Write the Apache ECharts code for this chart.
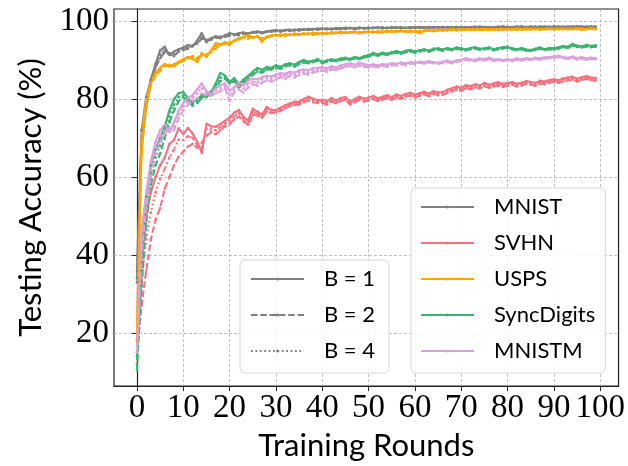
<!DOCTYPE html>
<html>
<head>
<meta charset="utf-8">
<script src="https://cdn.jsdelivr.net/npm/echarts@6/dist/echarts.min.js"></script>
<style>
  html, body { margin: 0; padding: 0; background: #fff; }
  #chart { width: 628px; height: 466px; }
</style>
</head>
<body>
<div id="chart"></div>
<script>
// tick labels
const xTicks = [0, 10, 20, 30, 40, 50, 60, 70, 80, 90, 100]
const yTicks = [20, 40, 60, 80, 100]

const datasets = ['MNIST', 'SVHN', 'USPS', 'SyncDigits', 'MNISTM']
const batchNames = ['B = 1', 'B = 2', 'B = 4']

// testing accuracy (%) per training round 0..99
const mnistB1 = [
  36, 72, 80.5, 85, 89, 92.5, 93.4, 91.3, 92.2, 92.8,
  93.2, 93.9, 93.5, 95, 96.9, 94.6, 95.6, 96.1, 95.8, 96.3,
  96.9, 96.6, 96.9, 97.1, 96.8, 97.2, 97.3, 97.1, 97.4, 97.5,
  97.7, 97.5, 97.7, 97.8, 97.6, 97.9, 97.8, 98, 97.9, 98.1,
  98, 98.1, 97.9, 98.2, 98.1, 98.3, 98.2, 98.1, 98.3, 98.2,
  98.3, 98.2, 98.4, 98.3, 98.2, 98.4, 98.3, 98.4, 98.2, 98.4,
  98.3, 98.5, 98.4, 98.3, 98.5, 98.4, 98.3, 98.5, 98.4, 98.5,
  98.4, 98.3, 98.5, 98.4, 98.6, 98.4, 98.5, 98.3, 98.5, 98.6,
  98.4, 98.5, 98.6, 98.4, 98.5, 98.6, 98.5, 98.4, 98.6, 98.5,
  98.6, 98.5, 98.4, 98.6, 98.5, 98.7, 98.5, 98.6, 98.5, 98.6
]
const mnistB2 = [
  34, 68, 78, 84, 88, 90.5, 92, 91.5, 91, 92.2,
  92.6, 92.9, 93.8, 94.2, 95.5, 95, 95.2, 95.8, 95.6, 96,
  96.2, 96.5, 96.4, 96.8, 96.6, 97, 97.1, 96.9, 97.2, 97.3,
  97.4, 97.3, 97.6, 97.5, 97.7, 97.6, 97.8, 97.7, 97.9, 97.8,
  98, 97.9, 98.1, 98, 97.9, 98.1, 98.2, 98, 98.1, 98.2,
  98.1, 98.3, 98.2, 98.1, 98.3, 98.2, 98.4, 98.3, 98.2, 98.3,
  98.4, 98.3, 98.2, 98.4, 98.3, 98.4, 98.5, 98.3, 98.4, 98.3,
  98.5, 98.4, 98.3, 98.5, 98.4, 98.5, 98.3, 98.4, 98.6, 98.4,
  98.5, 98.4, 98.5, 98.6, 98.4, 98.5, 98.4, 98.6, 98.5, 98.4,
  98.5, 98.6, 98.5, 98.4, 98.6, 98.5, 98.6, 98.4, 98.6, 98.5
]
const mnistB4 = [
  33, 70, 79, 84.5, 88.5, 91.5, 92.5, 91.8, 91.6, 92.5,
  93, 93.2, 93.6, 94.6, 95.8, 95.2, 95.4, 95.9, 96, 96.2,
  96.5, 96.4, 96.7, 96.9, 96.7, 97.1, 97.2, 97, 97.3, 97.4,
  97.6, 97.5, 97.7, 97.6, 97.8, 97.7, 97.9, 97.8, 98, 97.9,
  98.1, 98, 97.9, 98.1, 98.2, 98, 98.2, 98.1, 98.3, 98.1,
  98.2, 98.3, 98.2, 98.4, 98.2, 98.3, 98.4, 98.2, 98.3, 98.4,
  98.3, 98.4, 98.3, 98.5, 98.4, 98.3, 98.5, 98.4, 98.3, 98.5,
  98.4, 98.5, 98.4, 98.6, 98.3, 98.5, 98.4, 98.5, 98.4, 98.6,
  98.5, 98.4, 98.5, 98.6, 98.5, 98.4, 98.6, 98.5, 98.4, 98.6,
  98.5, 98.4, 98.6, 98.5, 98.6, 98.4, 98.6, 98.5, 98.7, 98.5
]

const svhnB1 = [
  20, 38, 50, 56, 60, 63, 65, 68.5, 69.5, 72.5,
  71, 72.6, 71.2, 69, 66.2, 73.7, 73, 72.9, 73.6, 74.4,
  75.2, 76.5, 77.2, 75.4, 74.5, 77.5, 76.8, 76, 78, 77.2,
  77.2, 77.8, 78.4, 78.9, 79.3, 79.3, 80, 80.6, 80.1, 79.7,
  79.8, 79.5, 80.2, 79.6, 80.3, 80.5, 79.3, 80, 80.6, 80.1,
  80.4, 80.8, 80.2, 80.6, 81, 80.5, 81.2, 80.8, 81.3, 81.6,
  81.1, 81.5, 81.9, 81.4, 82, 81.7, 81.8, 82.4, 82.8, 83.2,
  82.9, 83.6, 83.3, 83.8, 83.5, 84.1, 83.7, 84, 84.3, 83.9,
  84.1, 84.4, 83.9, 84.2, 84.6, 84.4, 84.1, 84.7, 84.5, 84.9,
  85.1, 84.8, 85.3, 85.5, 85.7, 85.2, 85.6, 85.9, 85.5, 85.4
]
const svhnB2 = [
  15, 27, 36, 44, 49, 52, 57, 60, 63, 65.2,
  66.5, 67.8, 68.5, 67.5, 68.8, 70.6, 71.5, 71, 72, 73,
  73.6, 74.8, 75.5, 74.3, 73.4, 76, 75.8, 75.2, 76.8, 76.4,
  76.6, 77, 77.6, 78.2, 78.5, 78.6, 79.2, 79.6, 79.2, 79,
  79, 78.6, 79.4, 78.9, 79.5, 79.8, 78.6, 79.2, 79.8, 79.4,
  79.6, 80, 79.5, 79.9, 80.2, 79.8, 80.4, 80.1, 80.6, 80.9,
  80.4, 80.8, 81.2, 80.7, 81.3, 81, 81.1, 81.6, 82, 82.4,
  82.1, 82.8, 82.5, 83, 82.7, 83.3, 82.9, 83.2, 83.5, 83.1,
  83.4, 83.7, 83.2, 83.5, 83.9, 83.7, 83.4, 84, 83.8, 84.2,
  84.4, 84.1, 84.6, 84.8, 85, 84.5, 84.9, 85.2, 84.8, 84.7
]
const svhnB4 = [
  18, 33, 44, 51, 56, 59.5, 62, 65, 67, 69.6,
  69.5, 70.5, 70, 68.3, 67.5, 72.3, 72.2, 72, 72.8, 73.7,
  74.4, 75.6, 76.4, 74.9, 74, 76.8, 76.3, 75.6, 77.4, 76.8,
  76.9, 77.4, 78, 78.6, 78.9, 79, 79.6, 80.1, 79.7, 79.3,
  79.4, 79.1, 79.8, 79.2, 79.9, 80.2, 79, 79.6, 80.2, 79.8,
  80, 80.4, 79.9, 80.3, 80.6, 80.2, 80.8, 80.5, 81, 81.3,
  80.8, 81.2, 81.6, 81.1, 81.7, 81.4, 81.5, 82, 82.4, 82.8,
  82.5, 83.2, 82.9, 83.4, 83.1, 83.7, 83.3, 83.6, 83.9, 83.5,
  83.8, 84.1, 83.6, 83.9, 84.3, 84.1, 83.8, 84.4, 84.2, 84.6,
  84.8, 84.5, 85, 85.2, 85.4, 84.9, 85.3, 85.6, 85.2, 85.1
]

const uspsB1 = [
  20, 70, 80, 84.4, 86.7, 88, 89, 88.3, 88.7, 89.6,
  90.2, 90.8, 90.3, 89.5, 91.8, 90.8, 92.5, 94.3, 94, 94.6,
  93.9, 95.1, 95.6, 95.9, 96.4, 95.8, 96.1, 94.7, 96, 96.3,
  96.5, 96.2, 96.7, 96.4, 96.8, 96.5, 96.9, 96.6, 97, 96.8,
  97, 96.7, 97.1, 96.9, 97.2, 97, 97.1, 97.3, 96.9, 97.2,
  97.3, 97.1, 97.4, 97.2, 97.5, 97.3, 97.4, 97.6, 97.3, 97.5,
  97.4, 96.9, 97.5, 97.7, 97.5, 97.8, 97.6, 97.7, 97.9, 97.7,
  97.8, 97.9, 97.7, 98, 97.8, 97.9, 97.7, 98, 97.8, 97.9,
  98, 97.8, 98.1, 97.9, 98, 97.8, 98.1, 97.9, 98, 98.1,
  97.9, 98, 98.1, 97.9, 98, 98.2, 98, 97.9, 98.1, 98
]
const uspsB2 = [
  18, 66, 78, 83.5, 86, 87.2, 88.5, 88.8, 88.4, 89.3,
  89.8, 90.4, 91, 90.6, 91.2, 91.5, 92, 93, 93.8, 94.2,
  94.5, 94.9, 95.3, 95.7, 95.5, 95.9, 96, 95.6, 95.8, 96.1,
  96.3, 96.5, 96.2, 96.6, 96.4, 96.7, 96.6, 96.8, 96.5, 96.9,
  96.8, 97, 96.8, 97.1, 96.9, 97.2, 97, 97.1, 97.2, 97,
  97.2, 97.3, 97.1, 97.3, 97.2, 97.4, 97.3, 97.5, 97.4, 97.2,
  97.3, 97.5, 97.4, 97.6, 97.4, 97.6, 97.8, 97.6, 97.7, 97.8,
  97.7, 97.8, 97.9, 97.7, 97.9, 97.8, 98, 97.8, 97.9, 97.7,
  97.9, 98, 97.8, 98, 97.9, 98.1, 97.9, 97.8, 98, 97.9,
  98, 97.9, 98, 98.1, 97.9, 98, 97.8, 98, 98.1, 97.9
]
const uspsB4 = [
  22, 68, 79, 84, 86.5, 87.7, 88.8, 88.5, 89, 89.4,
  90, 90.6, 90.8, 90.2, 91.5, 91.2, 92.3, 93.6, 94, 94.4,
  94.2, 95, 95.4, 95.8, 96, 95.7, 96.1, 95.2, 95.9, 96.2,
  96.4, 96.3, 96.6, 96.5, 96.7, 96.6, 96.8, 96.7, 96.9, 96.7,
  96.9, 96.8, 97, 97, 97.1, 96.9, 97.2, 97.2, 97, 97.1,
  97.2, 97.2, 97.3, 97.1, 97.4, 97.3, 97.5, 97.4, 97.3, 97.4,
  97.3, 97.2, 97.6, 97.5, 97.6, 97.7, 97.5, 97.8, 97.8, 97.6,
  97.9, 97.8, 97.8, 97.9, 97.7, 98, 97.9, 97.9, 97.7, 98,
  97.9, 97.9, 98, 97.8, 98.1, 97.9, 98, 98, 97.9, 98,
  98, 98.1, 97.9, 98, 98.1, 97.9, 98.1, 98, 98, 98.1
]

const syncB1 = [
  14, 40, 55, 63, 67, 70, 73, 77, 80, 81.5,
  81.8, 80.3, 79.2, 80, 81, 80.5, 81.5, 84, 86.7, 86,
  84.4, 85.4, 83.8, 85, 86, 87, 88, 87.5, 88.2, 88,
  88.7, 88.3, 88.9, 89.2, 88.8, 89.5, 90, 89.6, 89.8, 90.3,
  89.5, 89.9, 90.2, 90, 90.4, 90.6, 90.3, 90.8, 90.5, 91,
  91.3, 91.8, 91.5, 91.9, 91.6, 92, 92.3, 91.9, 92.4, 92.6,
  92.2, 92.5, 92.8, 92.4, 92.9, 93, 92.7, 93.1, 92.8, 93.2,
  93, 92.7, 93.1, 93.3, 92.9, 93, 93.2, 92.8, 93.1, 93.3,
  93.4, 93, 92.8, 93.1, 92.7, 92.6, 92.9, 93.2, 92.8, 93.1,
  93, 93.3, 93.6, 93.4, 94.1, 93.7, 93.5, 93.9, 93.6, 93.8
]
const syncB2 = [
  10.5, 32, 48, 58, 63, 66, 70, 74, 77, 79.5,
  80.5, 79.5, 78.3, 79, 80.2, 81, 82, 83, 84.6, 85.2,
  84, 84.6, 83, 84.3, 85.2, 86.2, 87, 86.8, 87.5, 87.6,
  88, 87.8, 88.4, 88.7, 88.3, 89, 89.4, 89.2, 89.5, 89.8,
  89.2, 89.6, 89.9, 89.7, 90, 90.2, 90.1, 90.4, 90.3, 90.6,
  90.9, 91.3, 91.1, 91.5, 91.3, 91.7, 91.9, 91.6, 92, 92.2,
  91.9, 92.2, 92.5, 92.1, 92.6, 92.7, 92.4, 92.8, 92.5, 92.9,
  92.7, 92.5, 92.8, 93, 92.6, 92.8, 92.9, 92.5, 92.8, 93,
  93.1, 92.8, 92.5, 92.8, 92.4, 92.4, 92.6, 92.9, 92.6, 92.8,
  92.7, 93, 93.3, 93.1, 93.7, 93.4, 93.2, 93.5, 93.3, 93.4
]
const syncB4 = [
  12, 36, 52, 61, 65, 68, 72, 75.5, 78.5, 80.5,
  81, 80, 78.8, 79.6, 80.6, 80.8, 81.8, 83.6, 85.5, 85.6,
  84.2, 85, 83.4, 84.6, 85.6, 86.6, 87.5, 87.2, 87.9, 87.8,
  88.4, 88, 88.6, 89, 88.5, 89.2, 89.7, 89.4, 89.6, 90,
  89.4, 89.8, 90, 89.9, 90.2, 90.4, 90.2, 90.6, 90.4, 90.8,
  91.1, 91.5, 91.3, 91.7, 91.5, 91.8, 92.1, 91.8, 92.2, 92.4,
  92, 92.3, 92.6, 92.3, 92.7, 92.8, 92.5, 93, 92.7, 93,
  92.8, 92.6, 93, 93.1, 92.8, 92.9, 93, 92.7, 93, 93.1,
  93.2, 92.9, 92.7, 92.9, 92.5, 92.5, 92.8, 93, 92.7, 93,
  92.9, 93.1, 93.4, 93.2, 93.9, 93.5, 93.3, 93.7, 93.5, 93.6
]

const mnistmB1 = [
  16, 46, 56, 64, 69, 72, 73.4, 71.5, 74, 77,
  79, 80.2, 81, 82.5, 84, 82, 81.5, 82.8, 83.5, 84,
  82.2, 83, 84.2, 83.5, 84.8, 85.2, 85, 85.6, 86, 85.8,
  86.3, 86.7, 86.5, 87, 86.8, 87.3, 87.6, 87.4, 87.9, 88,
  88.2, 87.9, 88.4, 88.1, 88.6, 88.9, 89.2, 88.8, 89.3, 89,
  88.7, 88.9, 88.6, 89, 88.8, 89.2, 89, 89.4, 89.1, 89.5,
  89.3, 89.6, 89.4, 89.7, 89.5, 89.3, 89.6, 89.8, 89.5, 89.9,
  90.1, 90.5, 90.2, 90, 90.4, 90.2, 90.6, 90.1, 90.3, 90,
  90.2, 90, 90.4, 90.2, 90.5, 90.3, 90.6, 90.4, 90.7, 90.8,
  90.9, 91.1, 90.8, 90.6, 90.9, 90.5, 90.7, 90.4, 90.6, 90.5
]
const mnistmB2 = [
  15, 40, 52, 60, 66, 69, 71, 72.5, 72, 75,
  77, 78.5, 79.5, 80.2, 81.4, 81, 80.8, 81.5, 82, 82.8,
  79.5, 81.8, 82.5, 81.6, 83, 83.8, 83.4, 84.2, 84.8, 84.5,
  85, 85.6, 85.2, 85.9, 85.5, 86.2, 86.6, 86.3, 86.8, 87.1,
  87.3, 87, 87.6, 87.4, 87.9, 88.2, 88.5, 88.1, 88.6, 88.3,
  88.1, 88.4, 88.2, 88.5, 88.3, 88.7, 88.6, 89, 88.7, 89.1,
  89, 89.3, 89.1, 89.4, 89.2, 89, 89.3, 89.5, 89.2, 89.6,
  89.8, 90.1, 89.9, 89.7, 90.1, 89.9, 90.2, 89.8, 90, 89.8,
  90, 89.8, 90.1, 89.9, 90.2, 90, 90.3, 90.1, 90.4, 90.5,
  90.6, 90.8, 90.5, 90.3, 90.6, 90.2, 90.4, 90.1, 90.3, 90.2
]
const mnistmB4 = [
  17, 43, 54, 62, 67.5, 70.5, 72, 72, 73, 76,
  78, 79.3, 80.3, 81.5, 82.8, 81.5, 81.2, 82.2, 82.8, 83.4,
  81, 82.4, 83.4, 82.6, 84, 84.5, 84.2, 85, 85.4, 85.2,
  85.7, 86.2, 85.9, 86.5, 86.2, 86.8, 87.1, 86.9, 87.4, 87.6,
  87.9, 87.6, 88.1, 87.8, 88.3, 88.6, 88.9, 88.5, 89, 88.7,
  88.4, 88.7, 88.4, 88.8, 88.5, 89, 88.8, 89.2, 88.9, 89.3,
  89.1, 89.4, 89.2, 89.5, 89.3, 89.1, 89.4, 89.6, 89.3, 89.7,
  89.9, 90.3, 90, 89.8, 90.2, 90, 90.4, 89.9, 90.1, 89.9,
  90.1, 89.9, 90.2, 90, 90.3, 90.1, 90.4, 90.2, 90.5, 90.6,
  90.7, 90.9, 90.6, 90.4, 90.7, 90.3, 90.5, 90.2, 90.4, 90.3
]

const colors = {
  MNIST: '#808080',
  SVHN: '#f8717f',
  USPS: '#ffa500',
  SyncDigits: '#3cb371',
  MNISTM: '#dda0dd'
}
// solid / dashed / dotted like matplotlib
const dashes = ['solid', [6.5, 2.8], [1.8, 2.6]]

const runs = {
  MNIST: [mnistB1, mnistB2, mnistB4],
  SVHN: [svhnB1, svhnB2, svhnB4],
  USPS: [uspsB1, uspsB2, uspsB4],
  SyncDigits: [syncB1, syncB2, syncB4],
  MNISTM: [mnistmB1, mnistmB2, mnistmB4]
}

const chart = echarts.init(document.getElementById('chart'), null, { renderer: 'canvas' })

const series = []
datasets.forEach((name) => {
  runs[name].forEach((vals, b) => {
    series.push({
      name: name,
      type: 'line',
      data: vals.map((v, i) => [i, v]),
      symbol: 'circle',
      symbolSize: 2.5,
      showSymbol: true,
      showAllSymbol: true,
      lineStyle: { color: colors[name], width: 2.1, type: dashes[b] },
      itemStyle: { color: colors[name] },
      emphasis: { disabled: true },
      animation: false
    })
  })
})
// empty series, only for the batch-size legend
batchNames.forEach((name, b) => {
  series.push({
    name: name,
    type: 'line',
    data: [],
    symbol: 'circle',
    symbolSize: 2.5,
    lineStyle: { color: '#808080', width: 2.1, type: dashes[b] },
    itemStyle: { color: '#808080' },
    animation: false
  })
})

const legendCommon = {
  orient: 'vertical',
  itemWidth: 53,
  itemHeight: 4,
  itemGap: 14,
  backgroundColor: 'rgba(255,255,255,0.85)',
  borderColor: '#d6d6d6',
  borderWidth: 1,
  borderRadius: 5,
  selectedMode: false,
  textStyle: {
    fontFamily: 'Lato',
    fontSize: 22,
    color: '#000',
    padding: [0, 0, 0, 15]
  }
}

const option = {
  backgroundColor: '#fff',
  animation: false,
  grid: {
    left: 114,
    right: 6,
    top: 9,
    bottom: 79,
    show: true,
    borderColor: '#222',
    borderWidth: 1.2,
    backgroundColor: 'transparent'
  },
  legend: [
    Object.assign({}, legendCommon, {
      data: datasets,
      left: 411,
      top: 188,
      padding: [8, 10, 11, 9]
    }),
    Object.assign({}, legendCommon, {
      data: batchNames,
      left: 240,
      top: 260,
      padding: [8, 14, 11, 10]
    })
  ],
  xAxis: {
    type: 'value',
    min: -4.95,
    max: 103.95,
    name: 'Training Rounds',
    nameLocation: 'middle',
    nameGap: 36,
    nameTextStyle: { fontFamily: 'Lato', fontSize: 31, color: '#000' },
    axisLine: { show: true, lineStyle: { color: '#222', width: 1.2 } },
    axisTick: { show: true, length: 5, lineStyle: { color: '#222' }, customValues: xTicks },
    axisLabel: {
      customValues: xTicks,
      fontFamily: 'Liberation Serif',
      fontSize: 33,
      color: '#000',
      margin: 6
    },
    splitLine: { show: true, lineStyle: { color: '#b0b0b0', width: 0.8, type: [3, 2] } }
  },
  yAxis: {
    type: 'value',
    min: 6.4,
    max: 103.1,
    name: 'Testing Accuracy (%)',
    nameLocation: 'middle',
    nameGap: 68,
    nameRotate: 90,
    nameTextStyle: { fontFamily: 'Lato', fontSize: 31, color: '#000' },
    axisLine: { show: true, lineStyle: { color: '#222', width: 1.2 } },
    axisTick: { show: true, length: 5, lineStyle: { color: '#222' }, customValues: yTicks },
    axisLabel: {
      customValues: yTicks,
      fontFamily: 'Liberation Serif',
      fontSize: 33,
      color: '#000',
      margin: 5
    },
    splitLine: { show: true, lineStyle: { color: '#b0b0b0', width: 0.8, type: [3, 2] } }
  },
  series: series
}

chart.setOption(option)
</script>
</body>
</html>
